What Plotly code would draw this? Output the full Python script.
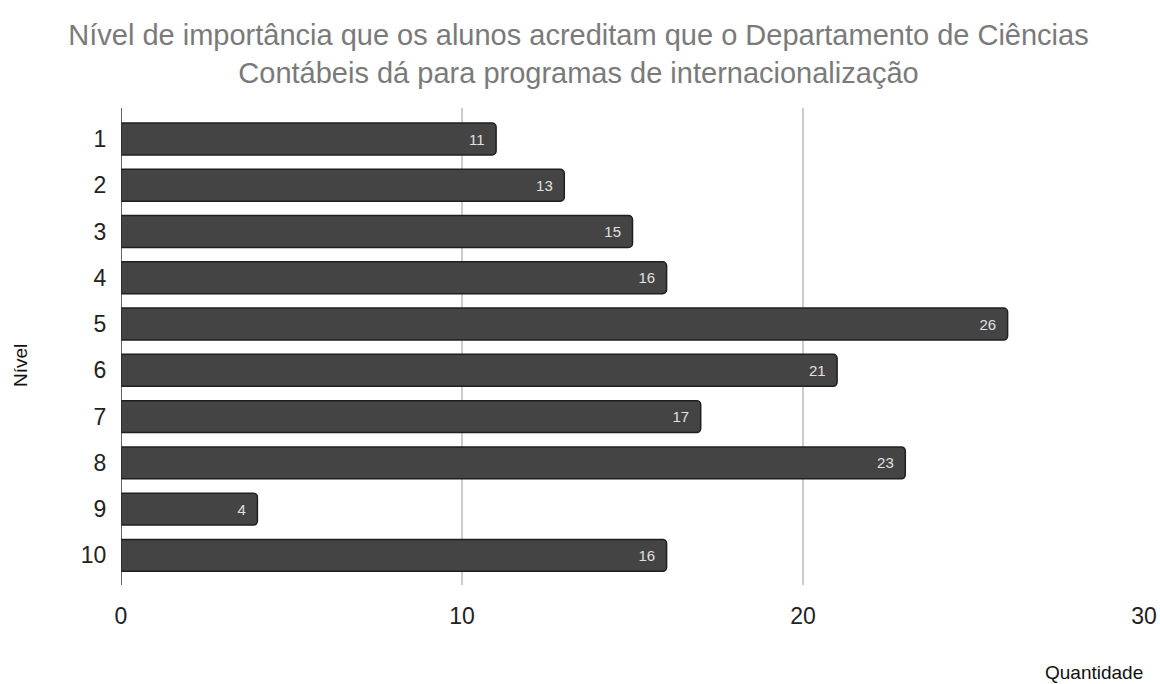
import plotly.graph_objects as go

niveis = ["1", "2", "3", "4", "5", "6", "7", "8", "9", "10"]
quantidade = [11, 13, 15, 16, 26, 21, 17, 23, 4, 16]
x_ticks = [0, 10, 20, 30]

title_text = ("Nível de importância que os alunos acreditam que o Departamento de Ciências<br>"
              "Contábeis dá para programas de internacionalização")

fig = go.Figure()
fig.add_trace(go.Bar(
    y=niveis, x=quantidade, orientation="h",
    marker=dict(color="#444444", line=dict(color="#1f1f1f", width=1.5), cornerradius=4),
    width=0.69,
    text=[str(v) + "\u2002" for v in quantidade], textposition="inside", insidetextanchor="end",
    textfont=dict(color="#e0e0e0", size=15, family="Liberation Sans, Arial"),
    textangle=0,
    hoverinfo="skip",
))

fig.update_layout(
    width=1160, height=684,
    margin=dict(l=121, r=16, t=108, b=99, autoexpand=False),
    paper_bgcolor="white", plot_bgcolor="white",
    font=dict(family="Liberation Sans, Arial", color="#222222"),
    title=dict(text=title_text, x=0.4987, xanchor="center", xref="container",
               y=1 - 45 / 684, yanchor="middle", yref="container",
               font=dict(size=29, color="#7a7a7a")),
    showlegend=False,
)
fig.update_xaxes(
    range=[0, 30], tickvals=x_ticks, ticktext=[str(t) for t in x_ticks],
    showgrid=True, gridcolor="#cccccc", gridwidth=1.5,
    zeroline=False, showline=False, automargin=False,
    ticks="outside", ticklen=10, tickcolor="rgba(0,0,0,0)",
    tickfont=dict(size=23, color="#222222"),
)
fig.update_yaxes(
    type="category", categoryorder="array", categoryarray=niveis,
    range=[9.64, -0.67],
    showgrid=False, zeroline=False, automargin=False,
    showline=False,
    ticks="outside", ticklen=9, tickcolor="rgba(0,0,0,0)",
    tickfont=dict(size=23, color="#222222"),
)
# y axis line at x=0
fig.add_shape(type="line", xref="x", yref="paper", x0=0, x1=0, y0=0, y1=1,
              line=dict(color="#333333", width=1.5), layer="above")

fig.add_annotation(text="Quantidade", xref="paper", yref="paper", x=1.001, y=-0.184,
                   xanchor="right", yanchor="middle", showarrow=False,
                   font=dict(size=19, color="#111111"))
fig.add_annotation(text="Nível", xref="paper", yref="paper", x=-0.0987, y=0.459,
                   xanchor="center", yanchor="middle", showarrow=False, textangle=-90,
                   font=dict(size=19, color="#111111"))

fig.write_html("out.html")
